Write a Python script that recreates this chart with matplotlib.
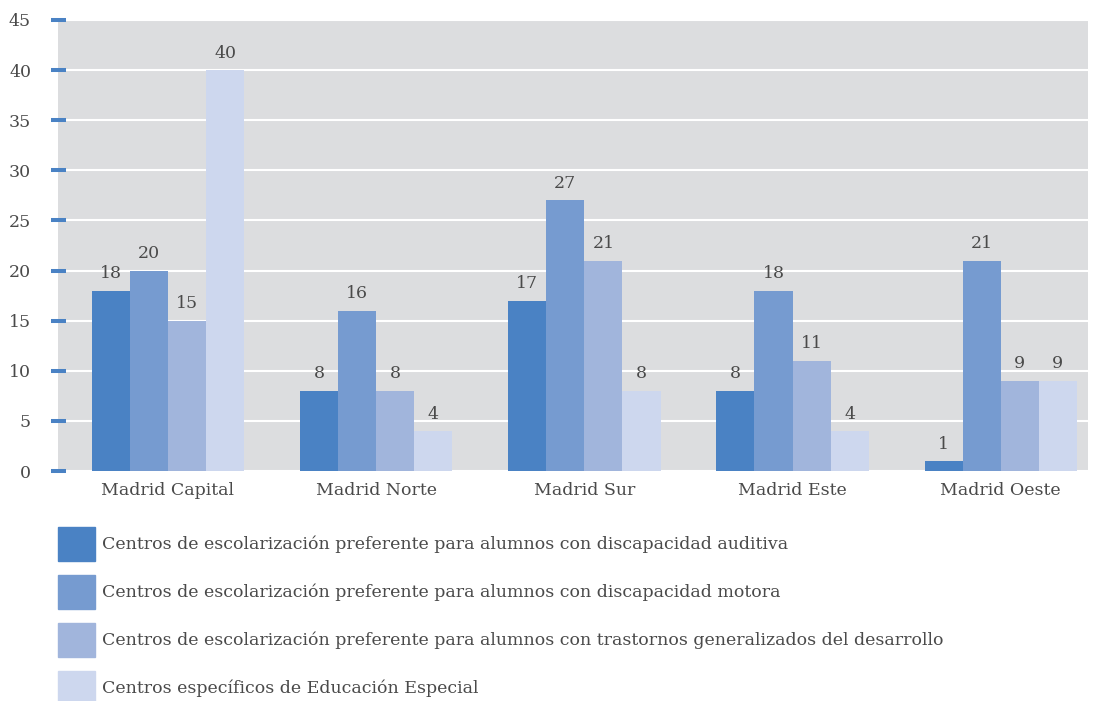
import matplotlib
matplotlib.use("Agg")
import matplotlib.pyplot as plt
from matplotlib.patches import Rectangle
import numpy as np

plt.rcParams['font.family'] = ['DejaVu Serif', 'DejaVu Sans']

categories = ["Madrid Capital", "Madrid Norte", "Madrid Sur", "Madrid Este", "Madrid Oeste"]
series_names = [
    "Centros de escolarización preferente para alumnos con discapacidad auditiva",
    "Centros de escolarización preferente para alumnos con discapacidad motora",
    "Centros de escolarización preferente para alumnos con trastornos generalizados del desarrollo",
    "Centros específicos de Educación Especial",
]
auditiva = [18, 8, 17, 8, 1]
motora = [20, 16, 27, 18, 21]
tgd = [15, 8, 21, 11, 9]
especial = [40, 4, 8, 4, 9]
series_values = [auditiva, motora, tgd, especial]
colors = ["#4a82c4", "#769bd0", "#a1b5dc", "#cdd7ee"]
yticks = [0, 5, 10, 15, 20, 25, 30, 35, 40, 45]

W, H = 1096, 701
TXT = "#4a4a4a"
fig = plt.figure(figsize=(W / 100, H / 100), dpi=100)
ax = fig.add_axes([58 / W, 1 - 471 / H, (1088 - 58) / W, (471 - 20) / H])
ax.set_facecolor("#dcdddf")
for s in ax.spines.values():
    s.set_visible(False)

x = np.arange(len(categories))
bw = 0.183
for i, (vals, c) in enumerate(zip(series_values, colors)):
    pos = x + (i - 1.5) * bw
    bars = ax.bar(pos, vals, width=bw, color=c, zorder=3)
    for b, v in zip(bars, vals):
        ax.annotate(str(v), (b.get_x() + b.get_width() / 2, v), xytext=(0, 6),
                    textcoords="offset points", ha="center", va="bottom",
                    fontsize=12.5, color=TXT, zorder=4)

ax.set_xlim(-0.528, 4.419)
ax.set_ylim(0, 45)
ax.set_yticks(yticks)
ax.set_yticklabels([str(t) for t in yticks])
ax.yaxis.grid(True, color="white", linewidth=1.5, zorder=1)
ax.set_axisbelow(True)
ax.tick_params(axis="y", direction="inout", length=10.8, width=2.9, color="#4a82c4",
               labelsize=12.5, labelcolor=TXT, pad=14)
ax.set_xticks(x)
ax.set_xticklabels(categories)
ax.tick_params(axis="x", length=0, labelsize=12.5, labelcolor=TXT, pad=8)

# legend
row_y = [544, 592, 640, 688]
for name, c, yc in zip(series_names, colors, row_y):
    fig.add_artist(Rectangle((58 / W, 1 - (yc + 17) / H), 37 / W, 34 / H,
                             transform=fig.transFigure, color=c))
    fig.text(102 / W, 1 - yc / H, name, ha="left", va="center", fontsize=12.5, color=TXT)

fig.savefig("out.png", dpi=100)
